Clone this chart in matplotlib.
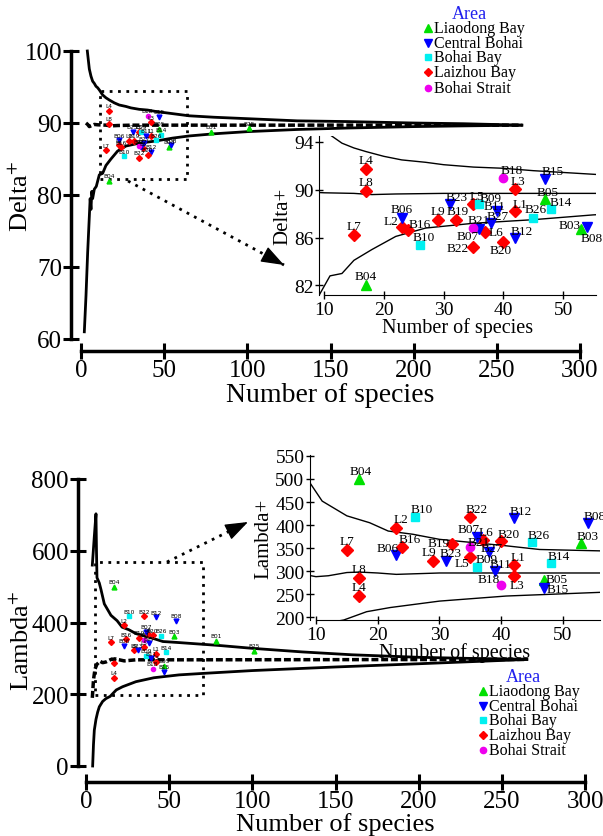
import matplotlib.pyplot as plt
from matplotlib.patches import Rectangle

plt.rcParams['font.family'] = ['Liberation Serif', 'DejaVu Serif']
plt.rcParams['mathtext.fontset'] = 'stix'

# station data
stations = ['L1', 'L2', 'L3', 'L4', 'L5', 'L6', 'L7', 'L8', 'L9',
            'B01', 'B03', 'B04', 'B05', 'B06', 'B07', 'B08', 'B09', 'B10',
            'B11', 'B12', 'B14', 'B15', 'B16', 'B18', 'B19', 'B20', 'B21',
            'B22', 'B23', 'B25', 'B26', 'B27']
areas = ['Laizhou Bay'] * 9 + [
    'Liaodong Bay', 'Liaodong Bay', 'Liaodong Bay', 'Liaodong Bay',
    'Central Bohai', 'Central Bohai', 'Central Bohai', 'Bohai Bay', 'Bohai Bay',
    'Central Bohai', 'Central Bohai', 'Bohai Bay', 'Central Bohai', 'Laizhou Bay',
    'Bohai Strait', 'Laizhou Bay', 'Laizhou Bay', 'Bohai Strait',
    'Laizhou Bay', 'Central Bohai', 'Liaodong Bay', 'Bohai Bay', 'Central Bohai']
species = [42, 23, 42, 17, 35, 37, 15, 17, 29,
           78, 53, 17, 47, 23, 36, 54, 36, 26,
           39, 42, 48, 47, 24, 40, 32, 40, 35,
           35, 31, 101, 45, 38]
delta = [88.2, 86.9, 90.1, 91.7, 88.8, 86.5, 86.2, 89.9, 87.5,
         88.8, 86.7, 82.0, 89.2, 87.6, 86.7, 86.9, 88.8, 85.4,
         88.2, 86.0, 88.4, 90.9, 86.6, 91.0, 87.5, 85.6, 86.8,
         85.2, 88.8, 89.3, 87.6, 87.2]
lam = [313, 393, 289, 246, 331, 367, 345, 286, 322,
       349, 362, 499, 280, 335, 374, 405, 308, 418,
       301, 415, 317, 263, 353, 271, 358, 365, 352,
       418, 323, 321, 363, 342]

# 95% probability funnels and mean
d_up_n = [3.8, 5, 6, 7, 8, 9, 10, 11, 13, 15, 17, 20, 23, 27, 30, 35, 40, 45, 50, 55,
          65, 80, 100, 130, 160, 200, 230, 265]
d_up = [100, 97.5, 96.5, 95.8, 95.5, 95.1, 94.9, 94.6, 93.9, 93.5, 93.2, 92.8, 92.5, 92.3,
        92.1, 91.9, 91.8, 91.6, 91.45, 91.3, 91.0, 90.8, 90.6, 90.3, 90.2, 90.0, 89.9, 89.7]
d_mean_n = [3, 4, 5, 6, 8, 10, 15, 18, 22, 30, 55, 265]
d_mean = [90.0, 89.8, 89.5, 89.6, 89.8, 89.75, 89.7, 89.6, 89.65, 89.7, 89.7, 89.7]
d_lo_n = [2, 3, 4, 5, 5.5, 6, 6.5, 7, 8, 9.2, 11, 13, 15, 18, 22, 27, 35, 45, 55,
          65, 80, 100, 130, 160, 200, 230, 265]
d_lo = [61, 66, 72, 77, 79.5, 78, 80.5, 79.5, 80.8, 81.2, 82.8, 83.0, 84.1, 85.0, 86.1,
        86.8, 87.2, 87.5, 87.9, 88.2, 88.5, 88.8, 89.1, 89.3, 89.5, 89.6, 89.7]

l_up_n = [3.8, 5, 6, 6.3, 6.6, 8, 9, 11, 15, 18.7, 21.7, 25.7, 30, 35.4, 40.8, 46.2, 56,
          80, 100, 130, 160, 200, 230, 265]
l_up = [560, 640, 703, 600, 525, 510, 492, 452, 420, 405, 387, 380, 369, 362, 355, 347,
        344, 336, 328, 318, 310, 303, 300, 297]
l_mean_n = [3.8, 4.5, 5.4, 6.5, 8.4, 10, 12, 15, 17, 20, 23, 30, 55, 265]
l_mean = [190, 240, 270, 283, 292, 288, 290, 297, 298, 296, 293, 296, 296, 297]
l_lo_n = [4, 4.5, 5, 6, 7, 8, 10, 12, 14.5, 18.2, 22, 30, 40.8, 56, 70, 100, 150, 200, 265]
l_lo = [0, 60, 100, 130, 150, 165, 180, 188, 194, 212, 221, 235, 246, 254, 258, 266, 276,
        285, 297]

styles = {'Liaodong Bay': ('^', '#00e000', 7),
          'Central Bohai': ('v', '#0000ff', 7),
          'Bohai Bay': ('s', '#00f0f0', 6),
          'Laizhou Bay': ('D', '#ff0000', 6),
          'Bohai Strait': ('o', '#ee00ee', 6)}
area_order = ['Liaodong Bay', 'Central Bohai', 'Bohai Bay', 'Laizhou Bay', 'Bohai Strait']

# label offsets (pixels) inside the insets
off_top = {'L2': (-11, 6), 'B16': (12, 6), 'B23': (7, 7), 'L5': (3, 8), 'B09': (11, 6),
           'B21': (5, 8), 'B07': (-12, -7), 'B22': (-16, -1), 'L6': (11, 0), 'B27': (6, 7),
           'B11': (-3, 5), 'B18': (8, 8), 'B20': (-3, -8), 'L3': (3, 8), 'L1': (5, 7),
           'B12': (6, 7), 'B15': (7, 8), 'B05': (2, 7), 'B14': (10, 7), 'B26': (2, 9),
           'B03': (-11, 4), 'B08': (5, -11), 'B10': (4, 8), 'B19': (2, 9)}
off_bot = {'B04': (1, 8), 'B10': (7, 8), 'B22': (6, 8), 'B12': (7, 7), 'B08': (7, 7),
           'L2': (5, 9), 'B07': (-8, 8), 'L6': (3, 8), 'B20': (7, 7), 'B26': (7, 7),
           'B03': (6, 7), 'B16': (7, 8), 'B19': (-13, 1), 'B21': (8, 5), 'B27': (3, 4),
           'B06': (-9, 7), 'L5': (-8, -6), 'L9': (-4, 9), 'B23': (5, 8), 'B09': (10, 8),
           'L1': (4, 8), 'B14': (8, 7), 'B11': (6, 7), 'L3': (3, -9), 'B05': (12, 1),
           'B18': (-12, 6), 'B15': (13, -1)}

W, H = 603, 837
fig = plt.figure(figsize=(W / 100, H / 100), dpi=100)


def px(l, t, r, b):
    return [l / W, 1 - b / H, (r - l) / W, (b - t) / H]


def draw_points(ax, yvals, ms_scale, fs, offsets, default=(0, 9)):
    for s, a, n, v in zip(stations, areas, species, yvals):
        m, c, ms = styles[a]
        ax.plot(n, v, m, color=c, ms=ms * ms_scale, mec=c, zorder=5)
        dx, dy = offsets.get(s, default)
        ax.annotate(s, (n, v), xytext=(dx, dy), textcoords='offset pixels',
                    ha='center', va='center', fontsize=fs, zorder=6,
                    family=['DejaVu Sans'] if fs < 6 else None,
                    annotation_clip=True)


def main_axes(ax, xs, ylim, yticks, left_out, bot_out):
    ax.set_xlim(0, 300)
    ax.set_ylim(*ylim)
    for s in ['top', 'right']:
        ax.spines[s].set_visible(False)
    ax.spines['left'].set_position(('outward', left_out))
    ax.spines['bottom'].set_position(('outward', bot_out))
    ax.spines['left'].set_bounds(*ylim)
    ax.spines['bottom'].set_bounds(0, 300)
    for s in ['left', 'bottom']:
        ax.spines[s].set_linewidth(2.5)
    ax.set_xticks(xs)
    ax.set_yticks(yticks)
    ax.tick_params(direction='inout', length=11, width=2.2, labelsize=18, pad=1)
    ax.tick_params(axis='x', pad=0)


def inset_axes(ax, xlim, ylim, yticks, fs):
    ax.set_xlim(*xlim)
    ax.set_ylim(*ylim)
    for s in ['top', 'right']:
        ax.spines[s].set_visible(False)
    ax.spines['bottom'].set_bounds(10, xlim[1])
    ax.set_xticks([10, 20, 30, 40, 50])
    ax.set_yticks(yticks)
    ax.tick_params(direction='inout', length=6, width=1, labelsize=fs, pad=1)
    ax.set_xlabel('Number of species', fontsize=14.5, labelpad=0)
    ax.patch.set_alpha(0)


# ---------------- Delta+ ----------------
ax1 = fig.add_axes(px(81, 52, 580, 340))
main_axes(ax1, [0, 50, 100, 150, 200, 250, 300], (60, 100), [60, 70, 80, 90, 100], 7.2, 8.6)
ax1.set_xlabel('Number of species', fontsize=20, labelpad=1)
ax1.set_ylabel('Delta$^{+}$', fontsize=19, va='center')
ax1.yaxis.set_label_coords(-0.12, 0.5)
ax1.plot(d_up_n, d_up, color='black', lw=2, clip_on=False)
ax1.plot(d_lo_n, d_lo, color='black', lw=2, clip_on=False)
ax1.plot(d_mean_n, d_mean, color='black', lw=2.5, ls=(0, (2, 0.8)), clip_on=False)
draw_points(ax1, delta, 0.5, 4.2, {}, default=(0, 5))
ax1.add_patch(Rectangle((11.4, 82.2), 52.2, 12.2, fill=False, ls=(0, (1, 2)), lw=2, zorder=4))

ins1 = fig.add_axes(px(319, 137, 596, 296))
inset_axes(ins1, (9.16, 55.5), (81.2, 94.5), [82, 86, 90, 94], 14)
ins1.set_ylabel('Delta+', fontsize=15, labelpad=1)
ins1.plot(d_up_n, d_up, color='black', lw=1)
ins1.plot(d_lo_n, d_lo, color='black', lw=1)
ins1.plot(d_mean_n, d_mean, color='black', lw=1)
draw_points(ins1, delta, 1.0, 9.5, off_top)

# ---------------- Lambda+ ----------------
ax2 = fig.add_axes(px(86, 480, 585, 767))
main_axes(ax2, [0, 50, 100, 150, 200, 250, 300], (0, 800), [0, 200, 400, 600, 800], 5.8, 11.5)
ax2.set_xlabel('Number of species', fontsize=19, labelpad=0)
ax2.set_ylabel('Lambda$^{+}$', fontsize=19, va='center')
ax2.yaxis.set_label_coords(-0.128, 0.44)
ax2.plot(l_up_n, l_up, color='black', lw=2, clip_on=False)
ax2.plot(l_lo_n, l_lo, color='black', lw=2, clip_on=False)
ax2.plot(l_mean_n, l_mean, color='black', lw=2.5, ls=(0, (2, 0.8)), clip_on=False)
draw_points(ax2, lam, 0.5, 4.2, {}, default=(0, 5))
ax2.add_patch(Rectangle((5.4, 198), 65.1, 370, fill=False, ls=(0, (1, 2)), lw=2, zorder=4))

ins2 = fig.add_axes(px(310, 456, 600, 621))
inset_axes(ins2, (9.03, 56), (194, 552), [200, 250, 300, 350, 400, 450, 500, 550], 14)
ins2.set_ylabel('Lambda+', fontsize=15, labelpad=1)
ins2.plot(l_up_n, l_up, color='black', lw=1)
ins2.plot(l_lo_n, l_lo, color='black', lw=1)
ins2.plot(l_mean_n, l_mean, color='black', lw=1)
draw_points(ins2, lam, 1.0, 9.5, off_bot)

# ---------------- overlay: arrows and legends ----------------
ov = fig.add_axes([0, 0, 1, 1], zorder=10)
ov.set_xlim(0, W)
ov.set_ylim(H, 0)
ov.axis('off')
ov.patch.set_alpha(0)


def dotted_arrow(start, tip):
    ov.plot([start[0], tip[0]], [start[1], tip[1]], color='black', lw=2,
            ls=(0, (1, 2)))
    dx, dy = tip[0] - start[0], tip[1] - start[1]
    d = (dx ** 2 + dy ** 2) ** 0.5
    back = (tip[0] - 12 * dx / d, tip[1] - 12 * dy / d)
    ov.annotate('', xy=tip, xytext=back,
                arrowprops=dict(arrowstyle='-|>,head_length=1.1,head_width=0.4',
                                lw=1, color='black', shrinkA=0, shrinkB=0,
                                mutation_scale=13))


dotted_arrow((128, 182), (284, 266))
dotted_arrow((167, 563), (248, 523))


def legend(x_title, y_title, x_mark, rows):
    ov.text(x_title, y_title, 'Area', color='#2020ee', fontsize=13, ha='center', va='center')
    for a, y in zip(area_order, rows):
        m, c, ms = styles[a]
        ov.plot(x_mark, y, m, color=c, ms=ms * 0.75)
        ov.text(x_mark + 6, y, a, fontsize=11.5, ha='left', va='center')


legend(469, 14, 428, [29, 44, 58, 73, 89])
legend(523, 677, 483, [692, 707, 721, 736, 751])

fig.savefig('out.png', dpi=100)
